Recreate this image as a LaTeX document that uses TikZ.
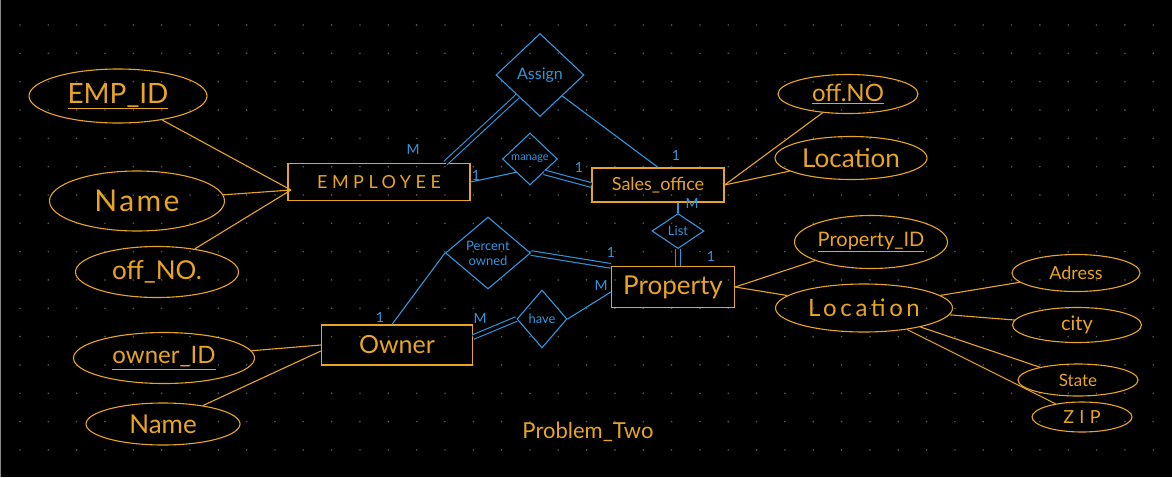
\documentclass[tikz,border=0pt]{standalone}
\usepackage{fontspec}
\setmainfont{Lato}
\usetikzlibrary{shapes.geometric}
\definecolor{org}{RGB}{232,165,35}
\definecolor{blu}{RGB}{50,150,222}
\definecolor{dotc}{RGB}{85,85,85}
\tikzset{
  attr/.style={draw=org, ellipse, line width=1.1pt, text=org, inner sep=0pt},
  ent/.style={draw=org, rectangle, line width=1.3pt, text=org, inner sep=0pt},
  rel/.style={draw=blu, diamond, line width=1.1pt, text=blu, inner sep=0pt, align=center},
  oline/.style={draw=org, line width=1.1pt},
  bline/.style={draw=blu, line width=1.1pt},
  dbl/.style={draw=blu, line width=1.1pt, double=black, double distance=3.5pt},
  card/.style={text=blu, font=\fontsize{14}{14}\selectfont, inner sep=0pt},
}
\newcommand{\fs}[1]{\fontsize{#1}{#1}\selectfont}
\begin{document}
\begin{tikzpicture}[x=1pt,y=-1pt]
\fill[black] (0,0) rectangle (1172,477);
\useasboundingbox (0,0) rectangle (1172,477);
\draw[dotc!70, line width=1pt] (0.5,0) -- (0.5,477);
\foreach \i in {0,...,40} {
  \foreach \j in {0,...,15} {
    \fill[dotc] (20+28.33*\i, 25+28.33*\j) circle (0.9);
  }
}
% entities
\node[ent, minimum width=182, minimum height=37] (emp) at (379,182) {\fs{18}\addfontfeature{LetterSpace=25}EMPLOYEE};
\node[ent, minimum width=132, minimum height=34] (so) at (658,185) {\fs{18}Sales\_office};
\node[ent, minimum width=123, minimum height=41] (prop) at (673,287) {\fs{26}Property};
\node[ent, minimum width=151, minimum height=40] (owner) at (397,345) {\fs{25}Owner};
% relationships
\node[rel, minimum width=88, minimum height=83] (assign) at (540,75) {\fs{16}Assign};
\node[rel, minimum width=55, minimum height=52] (manage) at (530,159) {\fs{11}manage};
\node[rel, minimum width=52, minimum height=35] (list) at (678,231) {\fs{13}List};
\node[rel, minimum width=85, minimum height=72, font=\fontsize{13}{15}\selectfont] (perc) at (488,253) {Percent\\owned};
\node[rel, minimum width=50, minimum height=58] (have) at (542,319) {\fs{13}have};
% attributes
\node[attr, minimum width=178, minimum height=54] (empid) at (118,96) {\fs{28}\underline{EMP\_ID}};
\node[attr, minimum width=175, minimum height=60] (ename) at (137,201) {\fs{30}\addfontfeature{LetterSpace=8}Name};
\node[attr, minimum width=163, minimum height=51] (eoff) at (157,272) {\fs{26}off\_NO.};
\node[attr, minimum width=181, minimum height=51] (ownid) at (164,358) {\fs{24}\underline{owner\_ID}};
\node[attr, minimum width=154, minimum height=42] (oname) at (163,424) {\fs{26}Name};
\node[attr, minimum width=140, minimum height=39] (soff) at (848,94) {\fs{24}\underline{off.NO}};
\node[attr, minimum width=152, minimum height=43] (sloc) at (851,158) {\fs{26}Location};
\node[attr, minimum width=153, minimum height=53] (pid) at (871,242) {\fs{20}\underline{Property\_ID}};
\node[attr, minimum width=177, minimum height=48] (ploc) at (864,308) {\fs{24}\addfontfeature{LetterSpace=15}Location};
\node[attr, minimum width=128, minimum height=37] (adr) at (1076,273) {\fs{18}Adress};
\node[attr, minimum width=129, minimum height=35] (city) at (1077,325) {\fs{20}city};
\node[attr, minimum width=120, minimum height=32] (state) at (1078,380) {\fs{17}State};
\node[attr, minimum width=100, minimum height=30] (zip) at (1082,417) {\fs{18}\addfontfeature{LetterSpace=30}ZIP};
\node[text=org, inner sep=0pt] (title) at (588,432) {\fs{22}Problem\_Two};
% attribute connectors
\coordinate (empin) at (291,190);
\draw[oline] (empid) -- (empin);
\draw[oline] (ename) -- (empin);
\draw[oline] (eoff) -- (empin);
\draw[oline] (soff) -- (so.east);
\draw[oline] (sloc) -- (so.east);
\draw[oline] (pid) -- (prop.east);
\draw[oline] (ploc) -- (prop.east);
\draw[oline] (ploc) -- (adr);
\draw[oline] (ploc) -- (city);
\draw[oline] (ploc) -- (state);
\draw[oline] (ploc) -- (zip);
\draw[oline] (ownid) -- (owner.west);
\draw[oline] (oname) -- ([yshift=-6pt]owner.west);
% relationship connectors
\draw[dbl] (assign.south west) -- ([xshift=-25pt]emp.north east);
\draw[bline] (assign.south east) -- (so.north);
\draw[bline] (emp.east) -- (manage.south west);
\draw[dbl] (manage.south east) -- (so.west);
\draw[bline] (list.north) -- (list.north |- so.south);
\draw[dbl] (list.south) -- (list.south |- prop.north);
\draw[dbl] (perc.east) -- (prop.north west);
\draw[bline] (perc.west) -- ([xshift=-5pt]owner.north);
\draw[dbl] ([yshift=8pt]owner.east) -- (have.west);
\draw[bline] (have.east) -- ([yshift=-5pt]prop.west);
% cardinalities
\node[card] (c1) at (413,149) {M};
\node[card] (c2) at (676,155) {1};
\node[card] (c3) at (476,175) {1};
\node[card] (c4) at (579,167) {1};
\node[card] (c5) at (692,203) {M};
\node[card] (c6) at (711,256) {1};
\node[card] (c7) at (611,252) {1};
\node[card] (c8) at (601,285) {M};
\node[card] (c9) at (380,317) {1};
\node[card] (c10) at (480,318) {M};
\end{tikzpicture}
\end{document}
